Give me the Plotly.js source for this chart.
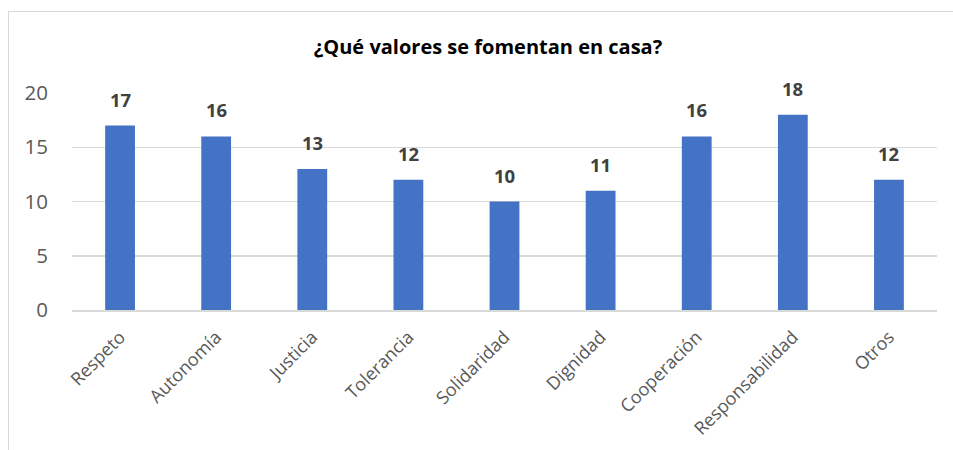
<!DOCTYPE html>
<html><head><meta charset="utf-8">
<script src="https://cdn.plot.ly/plotly-3.0.1.min.js"></script>
<style>
html,body{margin:0;padding:0;background:#fff;overflow:hidden;}
#frame{position:absolute;left:8px;top:11px;width:1100px;height:600px;border:1.5px solid #d9d9d9;box-sizing:border-box;pointer-events:none;z-index:2;}
#chart{position:absolute;left:0;top:0;width:953px;height:450px;}
</style></head>
<body>
<div id="chart"></div>
<div id="frame"></div>
<script>
const categories = ["Respeto","Autonomía","Justicia","Tolerancia","Solidaridad","Dignidad","Cooperación","Responsabilidad","Otros"];
const values = [17,16,13,12,10,11,16,18,12];
const yTicks = [0,5,10,15,20];
const titleText = "¿Qué valores se fomentan en casa?";

const font = "Open Sans, Liberation Sans, sans-serif";

const trace = {
  type: "bar",
  x: categories,
  y: values,
  marker: {color: "#4472C4"},
  hoverinfo: "x+y"
};

const annotations = categories.map((c, i) => ({
  x: c, y: values[i], xref: "x", yref: "y",
  text: "<b>" + values[i] + "</b>",
  showarrow: false, yanchor: "bottom", yshift: 12,
  font: {family: font, size: 18.5, color: "#404040"}
}));

const layout = {
  width: 953, height: 450,
  margin: {l: 72, r: 16, t: 93, b: 140},
  paper_bgcolor: "#fff", plot_bgcolor: "#fff",
  bargap: 0.69,
  showlegend: false,
  title: {
    text: "<b>" + titleText + "</b>",
    x: 488/953, xref: "container", xanchor: "center",
    y: 1 - 47/450, yref: "container", yanchor: "middle",
    font: {family: font, size: 20, color: "#000"}
  },
  xaxis: {
    type: "category",
    tickangle: -45,
    tickfont: {family: font, size: 18, color: "#595959"},
    ticks: "outside", ticklen: 8, tickcolor: "rgba(0,0,0,0)",
    showline: true, linecolor: "#d9d9d9", linewidth: 1.5,
    showgrid: false, fixedrange: true
  },
  yaxis: {
    range: [0, 20],
    tickvals: yTicks,
    tickfont: {family: font, size: 20.5, color: "#595959"},
    ticks: "outside", ticklen: 19, tickcolor: "rgba(0,0,0,0)",
    showgrid: true, gridcolor: "#d9d9d9", gridwidth: 1.5,
    zeroline: false, showline: false, fixedrange: true
  },
  annotations: annotations
};

Plotly.newPlot("chart", [trace], layout, {displayModeBar: false, staticPlot: true});
</script>
</body></html>
